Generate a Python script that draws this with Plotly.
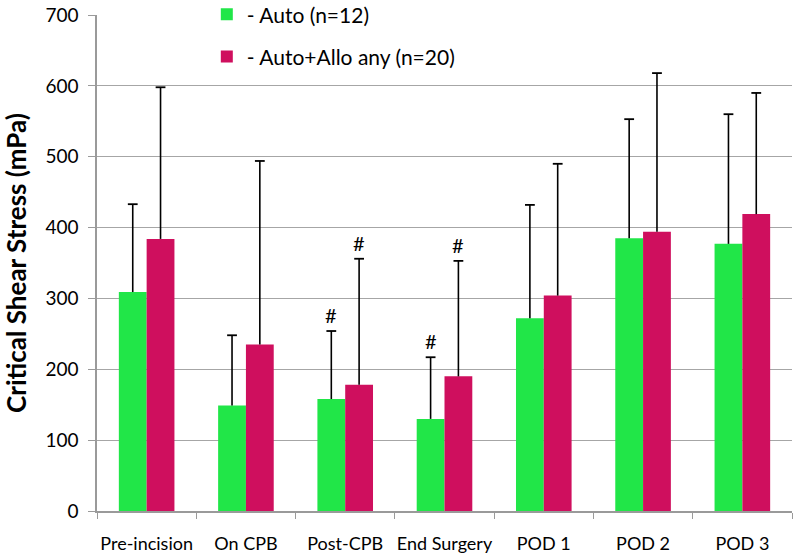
import plotly.graph_objects as go

categories = ["Pre-incision", "On CPB", "Post-CPB", "End Surgery", "POD 1", "POD 2", "POD 3"]
auto_vals = [309, 149, 158, 130, 272, 385, 377]
auto_err_top = [433, 248, 254, 217, 432, 553, 560]
allo_vals = [384, 235, 178, 190, 304, 394, 419]
allo_err_top = [598, 494, 356, 353, 490, 618, 590]
auto_name = "- Auto (n=12)"
allo_name = "- Auto+Allo any (n=20)"
hash_auto = ["", "", "#", "#", "", "", ""]
hash_allo = ["", "", "#", "#", "", "", ""]

GREEN = "#21E648"
MAGENTA = "#CF0F5E"
FONT = "Lato, 'Open Sans', sans-serif"
BAR_W = 0.28          # width of one bar in category units
OFF = BAR_W / 2       # offset of each bar centre from the category centre

idx = list(range(len(categories)))

fig = go.Figure()
for vals, tops, name, color, sign, grp, hashes in [
    (auto_vals, auto_err_top, auto_name, GREEN, -1, "a", hash_auto),
    (allo_vals, allo_err_top, allo_name, MAGENTA, 1, "b", hash_allo),
]:
    xs = [i + sign * OFF for i in idx]
    fig.add_trace(go.Bar(
        x=xs, y=vals, width=BAR_W, name=name, marker_color=color,
        marker_line_width=0, legendgroup=grp,
    ))
    # one-sided (upper) error bars
    lx, ly = [], []
    for x, v, t in zip(xs, vals, tops):
        lx += [x, x, None]
        ly += [v, t, None]
    fig.add_trace(go.Scatter(
        x=lx, y=ly, mode="lines", line=dict(color="black", width=1.6),
        showlegend=False, hoverinfo="skip", legendgroup=grp,
    ))
    fig.add_trace(go.Scatter(
        x=xs, y=tops, mode="markers",
        marker=dict(symbol="line-ew", size=7, line=dict(color="black", width=1.8)),
        showlegend=False, hoverinfo="skip", legendgroup=grp,
    ))
    for x, h, t in zip(xs, hashes, tops):
        if h:
            fig.add_annotation(x=x, y=t, text=h, showarrow=False,
                               yanchor="bottom", yshift=2,
                               font=dict(family=FONT, size=20, color="black"))

fig.update_layout(
    width=800, height=559,
    margin=dict(l=97, r=8, t=15, b=48, autoexpand=False),
    paper_bgcolor="white", plot_bgcolor="white",
    barmode="overlay",
    font=dict(family=FONT, color="black"),
    showlegend=True,
    legend=dict(
        x=0.158, xanchor="left", xref="paper",
        y=1.042, yanchor="top", yref="paper",
        bgcolor="white", borderwidth=0,
        font=dict(family=FONT, size=21, color="black"),
        traceorder="grouped", tracegroupgap=12,
        entrywidth=290, entrywidthmode="pixels",
    ),
    xaxis=dict(
        range=[-0.5, len(categories) - 0.5],
        tickvals=idx, ticktext=categories, ticks="",
        showline=True, linecolor="#9A9A9A", linewidth=1.5,
        showgrid=False, zeroline=False, automargin=False,
        tickfont=dict(family=FONT, size=18, color="black"),
        ticklabelstandoff=16,
        minor=dict(tickvals=[i + 0.5 for i in [-1] + idx], ticks="outside",
                   ticklen=6, tickcolor="#9A9A9A", showgrid=False),
    ),
    yaxis=dict(
        range=[0, 700], dtick=100,
        showline=True, linecolor="#9A9A9A", linewidth=1.5,
        showgrid=True, gridcolor="#A6A6A6", gridwidth=1.2,
        ticks="outside", ticklen=7, tickcolor="#9A9A9A",
        tickfont=dict(family=FONT, size=19, color="black"),
        ticklabelstandoff=6, automargin=False,
        zeroline=False,
        title=dict(text="<b>Critical Shear Stress (mPa)</b>",
                   font=dict(family=FONT, size=26, color="black"), standoff=15),
    ),
)

fig.write_html("out.html", config={"displayModeBar": False},
               post_script="document.body.style.margin='0px';")
